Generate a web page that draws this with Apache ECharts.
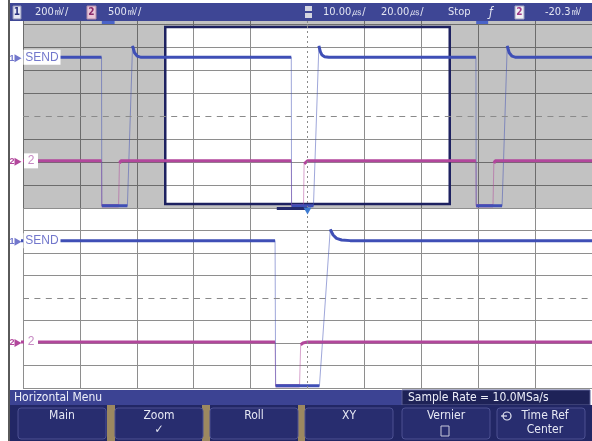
<!DOCTYPE html>
<html>
<head>
<meta charset="utf-8">
<script src="https://cdn.jsdelivr.net/npm/echarts@6/dist/echarts.min.js"></script>
<style>
  html, body { margin: 0; padding: 0; background: #ffffff; }
  #scope { width: 592px; height: 441px; }
</style>
</head>
<body>
<div id="scope"></div>
<script>
// Horizontal axis in µs, vertical axis in screen divisions.
const mainRange = [-100, 100];   // main timebase, 20 µs/div
const zoomRange = [-50, 50];     // zoomed timebase, 10 µs/div
const mainStep = 20;
const zoomStep = 10;

// Channel 1 (SEND): high level, drop to the bottom rail, rise with a small overshoot
const sendTrace = [
  [-100, 2.55],
  [-72.4, 2.55], [-72.3, -3.9], [-63.3, -3.9], [-61.5, 3.05], [-60.8, 2.75], [-59.8, 2.6], [-58.5, 2.55],
  [-5.7, 2.55], [-5.6, -3.9], [2.1, -3.9], [4.0, 3.05], [4.5, 2.8], [5.1, 2.65], [6.0, 2.58], [7.5, 2.55],
  [59.2, 2.55], [59.3, -3.9], [68.4, -3.9], [70.2, 3.05], [70.9, 2.75], [71.9, 2.6], [73.2, 2.55],
  [100, 2.55]
];

// Channel 2
const ch2Trace = [
  [-100, -1.95],
  [-72.4, -1.95], [-72.3, -3.9], [-66.4, -3.9], [-66.1, -2.05], [-65.6, -1.95],
  [-5.7, -1.95], [-5.6, -3.9], [-1.4, -3.9], [-1.2, -2.08], [-0.8, -2.0], [0, -1.95],
  [59.2, -1.95], [59.3, -3.9], [65.2, -3.9], [65.5, -2.05], [66.0, -1.95],
  [100, -1.95]
];

// Event markers drawn under the status line of the main window
const eventMarks = [[-72.3, -67.8], [59.3, 63.5]];

// Status line texts
const headerItems = [
  { text: '200㎷/', x: 35 },
  { text: '500㎷/', x: 108 },
  { text: '10.00㎲/', x: 323 },
  { text: '20.00㎲/', x: 381 },
  { text: 'Stop', x: 448 },
  { text: '-20.3㎷', x: 545 }
];

// Softkeys
const menuTitle = 'Horizontal Menu';
const sampleRateText = 'Sample Rate = 10.0MSa/s';
const softkeys = ['Main', 'Zoom', 'Roll', 'XY', 'Vernier', 'Time Ref'];
const softkeySub = ['', '✓', '', '', '', 'Center'];

const C1 = '#3f4fb6';
const C2 = '#b2479c';
const C1_LABEL = '#7277cc';
const C2_LABEL = '#c689c2';
const GRID_C = '#8e8e8e';
const FONT = "'Liberation Sans Narrow', 'DejaVu Sans Condensed', 'Liberation Sans', sans-serif";

function splitColors(n, centerIdx) {
  const a = [];
  for (let i = 0; i < n; i++) a.push(i === centerIdx ? 'rgba(0,0,0,0)' : GRID_C);
  return a;
}

// Keep only the slow parts of a trace (levels, overshoot decay); fast edges become gaps
function levelSegments(trace, maxSlope) {
  const out = [];
  for (let i = 0; i < trace.length; i++) {
    if (i > 0) {
      const dt = trace[i][0] - trace[i - 1][0];
      const dv = Math.abs(trace[i][1] - trace[i - 1][1]);
      if (dv / Math.max(dt, 1e-9) > maxSlope) out.push([(trace[i][0] + trace[i - 1][0]) / 2, '-']);
    }
    out.push(trace[i]);
  }
  return out;
}

function xAxisFor(grid, range, step) {
  return {
    type: 'value', gridIndex: grid, min: range[0], max: range[1], interval: step,
    axisLine: { show: false }, axisTick: { show: false }, axisLabel: { show: false },
    splitLine: { show: true, lineStyle: { color: splitColors(11, 5), width: 1 } }
  };
}
function yAxisFor(grid, max) {
  return {
    type: 'value', gridIndex: grid, min: -4, max: max, interval: 1,
    axisLine: { show: false }, axisTick: { show: false }, axisLabel: { show: false },
    splitLine: { show: true, showMaxLine: max === 4, lineStyle: { color: splitColors(10, 4), width: 1 } }
  };
}

// Thin pass draws the whole trace faintly (fast edges), thick pass draws the settled levels
function traceSeries(grid, data, color, thick) {
  return {
    type: 'line', xAxisIndex: grid, yAxisIndex: grid, data: data,
    showSymbol: false, symbol: 'none', connectNulls: false, z: thick ? 4 : 3,
    lineStyle: thick ? { color: color, width: 3 } : { color: color, width: 1, opacity: 0.5 },
    silent: true, clip: true
  };
}

function centerLines(grid) {
  return {
    type: 'line', xAxisIndex: grid, yAxisIndex: grid, data: [], z: 2, silent: true,
    markLine: {
      silent: true, symbol: 'none', label: { show: false }, animation: false,
      data: [
        { yAxis: 0, lineStyle: { color: '#8a8a8a', width: 1, type: [6, 5.4] } },
        { xAxis: 0, lineStyle: { color: '#8a8a8a', width: 1, type: [2, 3] } }
      ]
    }
  };
}

function channelLabels(grid, xmin) {
  const y1 = sendTrace[0][1];
  const y2 = ch2Trace[0][1];
  return {
    type: 'line', xAxisIndex: grid, yAxisIndex: grid, data: [], z: 10, silent: true,
    markPoint: {
      silent: true, animation: false,
      data: [
        { coord: [xmin, y1], symbol: 'rect', symbolSize: [37, 15], symbolOffset: [19, 0],
          itemStyle: { color: '#ffffff' },
          label: { show: true, position: 'inside', formatter: 'SEND', color: C1_LABEL, fontSize: 12, fontFamily: "'Liberation Sans', sans-serif" } },
        { coord: [xmin, y1], symbol: 'triangle', symbolRotate: -90, symbolSize: [8, 7], symbolOffset: [-5, 1],
          itemStyle: { color: C1_LABEL },
          label: { show: true, position: 'left', distance: 0, formatter: '1', color: C1_LABEL, fontSize: 9, fontWeight: 'bold' } },
        { coord: [xmin, y2], symbol: 'rect', symbolSize: [14, 15], symbolOffset: [8, 0],
          itemStyle: { color: '#ffffff' },
          label: { show: true, position: 'inside', formatter: '2', color: C2_LABEL, fontSize: 12, fontFamily: "'Liberation Sans', sans-serif" } },
        { coord: [xmin, y2], symbol: 'triangle', symbolRotate: -90, symbolSize: [8, 7], symbolOffset: [-5, 1],
          itemStyle: { color: C2 },
          label: { show: true, position: 'left', distance: 0, formatter: '2', color: C2, fontSize: 9, fontWeight: 'bold' } }
      ]
    }
  };
}

// Main window: shading outside the zoomed span, plus the zoom frame
const shadeStyle = { color: 'rgba(0,0,0,0.24)', borderWidth: 0 };
const zoomWindowSeries = {
  type: 'line', xAxisIndex: 0, yAxisIndex: 0, data: [], z: 1, silent: true,
  markArea: {
    silent: true, animation: false,
    data: [
      [{ xAxis: mainRange[0], yAxis: -4, itemStyle: shadeStyle }, { xAxis: zoomRange[0], yAxis: 4.13 }],
      [{ xAxis: zoomRange[1], yAxis: -4, itemStyle: shadeStyle }, { xAxis: mainRange[1], yAxis: 4.13 }],
      [{ xAxis: zoomRange[0], yAxis: 3.87, itemStyle: shadeStyle }, { xAxis: zoomRange[1], yAxis: 4.13 }],
      [{ xAxis: zoomRange[0], yAxis: -4, itemStyle: shadeStyle }, { xAxis: zoomRange[1], yAxis: -3.83 }]
    ]
  }
};
const zoomFrameSeries = {
  type: 'line', xAxisIndex: 0, yAxisIndex: 0, data: [], z: 6, silent: true,
  markArea: {
    silent: true, animation: false,
    data: [
      [{ xAxis: zoomRange[0], yAxis: -3.83, itemStyle: { color: 'rgba(0,0,0,0)', borderColor: '#1d2160', borderWidth: 2.5 } },
       { xAxis: zoomRange[1], yAxis: 3.87 }]
    ].concat(eventMarks.map(m => [
      { xAxis: m[0], yAxis: 4.0, itemStyle: { color: '#4a63c8', borderWidth: 0 } },
      { xAxis: m[1], yAxis: 4.13 }
    ]))
  }
};

// Zoomed window: delay marker at the top edge
const zoomMarkerSeries = {
  type: 'line', xAxisIndex: 1, yAxisIndex: 1, data: [], z: 7, silent: true,
  markLine: {
    silent: true, symbol: 'none', label: { show: false }, animation: false,
    data: [[{ coord: [-5.4, 4], lineStyle: { color: '#252a6c', width: 3, type: 'solid' } }, { coord: [0, 4] }]]
  },
  markPoint: {
    silent: true, animation: false,
    data: [{ coord: [0, 4], symbol: 'triangle', symbolRotate: 180, symbolSize: [8, 7], symbolOffset: [0, 3],
             itemStyle: { color: '#3d7ad0' }, label: { show: false } }]
  }
};

// Screen furniture: status line, frame and softkey menu
const graphics = [];
graphics.push({ type: 'rect', shape: { x: 8, y: 0, width: 2, height: 441 }, style: { fill: '#5a5a5a' }, z: 100 });
graphics.push({ type: 'rect', shape: { x: 10, y: 3, width: 582, height: 18 }, style: { fill: '#3e4695' }, z: 100 });
graphics.push({ type: 'rect', shape: { x: 13, y: 6, width: 8, height: 13 }, style: { fill: '#e6e7f3', stroke: '#8c8fb8', lineWidth: 1 }, z: 101 });
graphics.push({ type: 'text', style: { text: '1', x: 17, y: 12.5, align: 'center', verticalAlign: 'middle', fill: '#2b3380', font: 'bold 10px ' + FONT }, z: 102 });
graphics.push({ type: 'rect', shape: { x: 87, y: 6, width: 9, height: 13 }, style: { fill: '#e9c6d8', stroke: '#b08aa8', lineWidth: 1 }, z: 101 });
graphics.push({ type: 'text', style: { text: '2', x: 91.5, y: 12.5, align: 'center', verticalAlign: 'middle', fill: '#8a2a6a', font: 'bold 10px ' + FONT }, z: 102 });
graphics.push({ type: 'rect', shape: { x: 305, y: 6, width: 7, height: 5 }, style: { fill: '#d4d5e0' }, z: 101 });
graphics.push({ type: 'rect', shape: { x: 305, y: 13, width: 7, height: 5 }, style: { fill: '#d4d5e0' }, z: 101 });
graphics.push({ type: 'text', style: { text: 'ƒ', x: 489, y: 12.5, align: 'left', verticalAlign: 'middle', fill: '#e4e6f2', font: 'italic 12px ' + FONT }, z: 102 });
graphics.push({ type: 'rect', shape: { x: 515, y: 6, width: 9, height: 13 }, style: { fill: '#f0f0f5', stroke: '#a0a0c0', lineWidth: 1 }, z: 101 });
graphics.push({ type: 'text', style: { text: '2', x: 519.5, y: 12.5, align: 'center', verticalAlign: 'middle', fill: '#a03a88', font: 'bold 10px ' + FONT }, z: 102 });
headerItems.forEach(h => {
  graphics.push({ type: 'text', style: { text: h.text, x: h.x, y: 12.5, align: 'left', verticalAlign: 'middle', fill: '#e4e6f2', font: '11px ' + FONT }, z: 102 });
});

graphics.push({ type: 'rect', shape: { x: 10, y: 390, width: 392, height: 15 }, style: { fill: '#3c4393' }, z: 100 });
graphics.push({ type: 'text', style: { text: menuTitle, x: 14, y: 398, align: 'left', verticalAlign: 'middle', fill: '#eef0fa', font: '12px ' + FONT }, z: 102 });
graphics.push({ type: 'rect', shape: { x: 402, y: 390, width: 188, height: 15 }, style: { fill: '#1e2257', stroke: '#5a5f95', lineWidth: 1 }, z: 100 });
graphics.push({ type: 'text', style: { text: sampleRateText, x: 408, y: 398, align: 'left', verticalAlign: 'middle', fill: '#eef0fa', font: '12px ' + FONT }, z: 102 });
graphics.push({ type: 'rect', shape: { x: 10, y: 405, width: 582, height: 36 }, style: { fill: '#222765' }, z: 100 });

const keyX = [18, 115, 210, 305, 402, 497];
const keyW = 88;
[[107, 115], [202, 210], [298, 305]].forEach(g => {
  graphics.push({ type: 'rect', shape: { x: g[0], y: 405, width: g[1] - g[0], height: 36 }, style: { fill: '#9c8860' }, z: 100 });
});
softkeys.forEach((k, i) => {
  const x = keyX[i];
  graphics.push({ type: 'rect', shape: { x: x, y: 408, width: keyW, height: 31, r: 3 }, style: { fill: '#282d6f', stroke: '#4c5192', lineWidth: 1 }, z: 101 });
  const cx = x + keyW / 2 + (i === 5 ? 4 : 0);
  graphics.push({ type: 'text', style: { text: k, x: cx, y: 416, align: 'center', verticalAlign: 'middle', fill: '#e6e8f4', font: '12px ' + FONT }, z: 102 });
  if (softkeySub[i]) {
    graphics.push({ type: 'text', style: { text: softkeySub[i], x: cx, y: 430, align: 'center', verticalAlign: 'middle', fill: '#e6e8f4', font: '12px ' + FONT }, z: 102 });
  }
});
// Vernier check box and Time Ref icon
graphics.push({ type: 'rect', shape: { x: 441, y: 426, width: 8, height: 10 }, style: { fill: 'none', stroke: '#c8cadc', lineWidth: 1 }, z: 102 });
graphics.push({ type: 'circle', shape: { cx: 507, cy: 416, r: 4 }, style: { fill: 'none', stroke: '#e6e8f4', lineWidth: 1.2 }, z: 102 });
graphics.push({ type: 'line', shape: { x1: 501, y1: 416, x2: 507, y2: 416 }, style: { stroke: '#e6e8f4', lineWidth: 1.2 }, z: 102 });

const option = {
  animation: false,
  backgroundColor: '#ffffff',
  grid: [
    { left: 23, top: 21, width: 570, height: 187 },
    { left: 23, top: 208, width: 570, height: 180 }
  ],
  xAxis: [xAxisFor(0, mainRange, mainStep), xAxisFor(1, zoomRange, zoomStep)],
  yAxis: [yAxisFor(0, 4.13), yAxisFor(1, 4)],
  series: [
    zoomWindowSeries,
    centerLines(0),
    centerLines(1),
    traceSeries(0, ch2Trace, C2, false),
    traceSeries(0, levelSegments(ch2Trace, 2), C2, true),
    traceSeries(0, sendTrace, C1, false),
    traceSeries(0, levelSegments(sendTrace, 2), C1, true),
    traceSeries(1, ch2Trace, C2, false),
    traceSeries(1, levelSegments(ch2Trace, 2), C2, true),
    traceSeries(1, sendTrace, C1, false),
    traceSeries(1, levelSegments(sendTrace, 2), C1, true),
    zoomFrameSeries,
    zoomMarkerSeries,
    channelLabels(0, mainRange[0]),
    channelLabels(1, zoomRange[0])
  ],
  graphic: graphics
};

const chart = echarts.init(document.getElementById('scope'));
chart.setOption(option);
</script>
</body>
</html>
